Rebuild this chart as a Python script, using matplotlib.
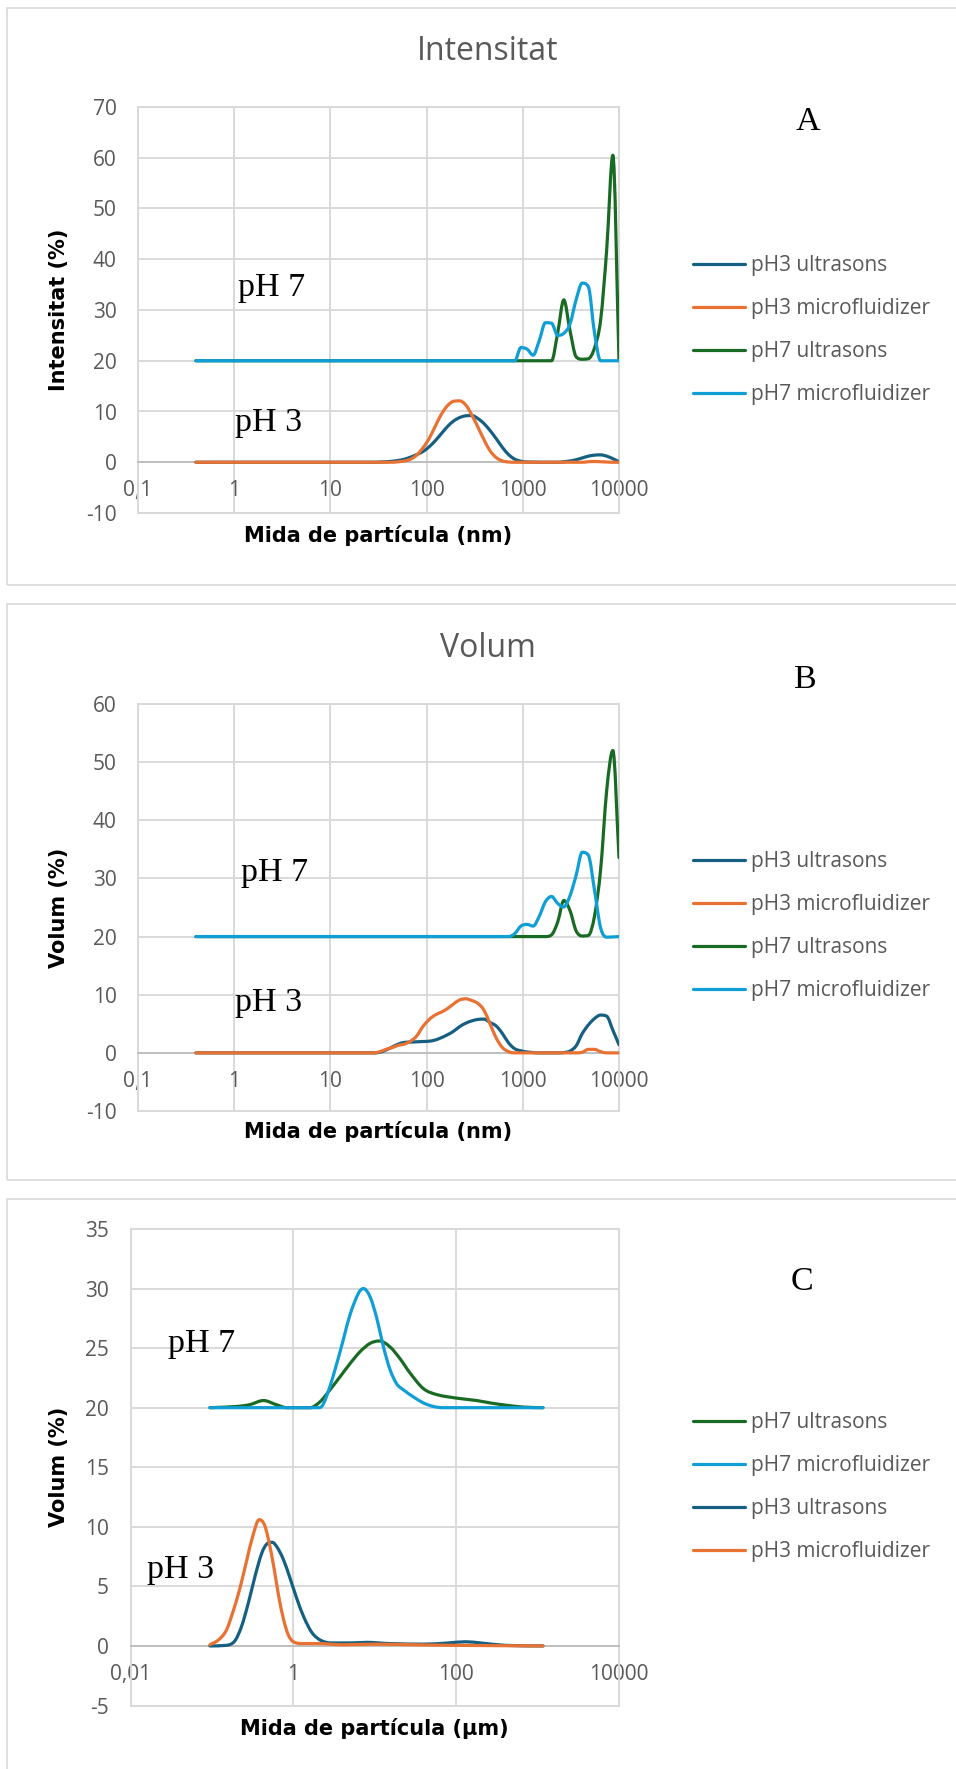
import matplotlib
matplotlib.use("Agg")
import numpy as np
import matplotlib.pyplot as plt
from matplotlib.ticker import FixedLocator, FixedFormatter, NullLocator
from matplotlib.patches import Rectangle, PathPatch
from matplotlib.path import Path
from matplotlib.lines import Line2D

plt.rcParams['font.family'] = ['Open Sans', 'DejaVu Sans']
plt.rcParams['axes.unicode_minus'] = False

# ---------------- data ----------------
SERIES_NAMES_AB = ["pH3 ultrasons", "pH3 microfluidizer", "pH7 ultrasons", "pH7 microfluidizer"]
SERIES_NAMES_C = ["pH7 ultrasons", "pH7 microfluidizer", "pH3 ultrasons", "pH3 microfluidizer"]

XTICKS_NM = [0.1, 1, 10, 100, 1000, 10000]
XTICKLABELS_NM = ["0,1", "1", "10", "100", "1000", "10000"]
XTICKS_UM = [0.01, 1, 100, 10000]
XTICKLABELS_UM = ["0,01", "1", "100", "10000"]
YTICKS_A = [-10, 0, 10, 20, 30, 40, 50, 60, 70]
YTICKS_B = [-10, 0, 10, 20, 30, 40, 50, 60]
YTICKS_C = [-5, 0, 5, 10, 15, 20, 25, 30, 35]

# Panel A - Intensitat (%), size in nm
A_pH3_us_x = [0.4, 28.21, 32.67, 37.84, 43.82, 50.75, 58.77, 68.06, 78.82, 91.28, 105.7, 122.4, 141.8,
              164.2, 190.1, 220.2, 255.0, 295.3, 342.0, 396.1, 458.7, 531.2, 615.1, 712.4, 825.0, 955.4,
              1106, 2305, 2669, 3091, 3580, 4145, 4801, 5560, 6439, 7456, 8635, 10000]
A_pH3_us_y = [0, 0, 0.05, 0.1, 0.2, 0.35, 0.6, 1.0, 1.5, 2.1, 3.0, 4.2, 5.6,
              7.0, 8.1, 8.8, 9.15, 9.2, 8.6, 7.6, 6.2, 4.6, 2.9, 1.5, 0.6, 0.2,
              0.05, 0, 0.1, 0.25, 0.5, 0.85, 1.2, 1.4, 1.45, 1.2, 0.7, 0.1]
A_pH3_mf_x = [0.4, 43.82, 50.75, 58.77, 68.06, 78.82, 91.28, 105.7, 122.4, 141.8, 164.2, 190.1, 220.2,
              255.0, 295.3, 342.0, 396.1, 458.7, 531.2, 615.1, 712.4, 825.0, 4145, 4801, 5560, 6439,
              7456, 8635, 10000]
A_pH3_mf_y = [0, 0, 0.1, 0.25, 0.6, 1.4, 2.8, 4.6, 7.0, 9.4, 11.1, 12.0, 12.1,
              11.3, 9.3, 6.9, 4.4, 2.2, 0.9, 0.25, 0.05, 0, 0, 0.1, 0.15, 0.1,
              0.05, 0, 0]
A_pH7_us_x = [0.4, 1718, 1990, 2305, 2669, 3091, 3580, 4145, 4801, 5560, 6439, 7456, 8635, 10000]
A_pH7_us_y = [20, 20, 20.0, 25.5, 32.0, 26.0, 20.8, 20.3, 20.4, 22.5, 28.0, 42.0, 60.5, 20]
A_pH7_mf_x = [0.4, 825.0, 955.4, 1106, 1281, 1484, 1718, 1990, 2305, 2669, 3091, 3580, 4145, 4801,
              5560, 6439, 10000]
A_pH7_mf_y = [20, 20, 22.6, 22.3, 21.1, 24.0, 27.5, 27.4, 25.0, 25.4, 27.2, 32.0, 35.3, 34.6,
              25.5, 20.0, 20]

# Panel B - Volum (%), size in nm
B_pH3_us_x = [0.4, 28.21, 32.67, 37.84, 43.82, 50.75, 58.77, 68.06, 78.82, 91.28, 105.7, 122.4, 141.8,
              164.2, 190.1, 220.2, 255.0, 295.3, 342.0, 396.1, 458.7, 531.2, 615.1, 712.4, 825.0, 955.4,
              1106, 1281, 1484, 2305, 2669, 3091, 3580, 4145, 4801, 5560, 6439, 7456, 8635, 10000]
B_pH3_us_y = [0, 0, 0.1, 0.5, 1.0, 1.5, 1.8, 1.85, 1.9, 1.95, 2.0, 2.2, 2.6,
              3.1, 3.7, 4.5, 5.1, 5.5, 5.75, 5.8, 5.2, 4.6, 3.3, 1.7, 0.7, 0.35,
              0.15, 0.05, 0, 0, 0.05, 0.3, 1.2, 3.3, 4.8, 5.9, 6.5, 6.3, 3.9, 1.4]
B_pH3_mf_x = [0.4, 28.21, 32.67, 37.84, 43.82, 50.75, 58.77, 68.06, 78.82, 91.28, 105.7, 122.4, 141.8,
              164.2, 190.1, 220.2, 255.0, 295.3, 342.0, 396.1, 458.7, 531.2, 615.1, 712.4, 825.0, 3580,
              4145, 4801, 5560, 6439, 7456, 10000]
B_pH3_mf_y = [0, 0, 0.2, 0.6, 0.9, 1.3, 1.5, 2.0, 2.9, 4.5, 5.7, 6.5, 7.0,
              7.6, 8.4, 9.1, 9.3, 9.0, 8.5, 7.3, 4.9, 2.5, 0.9, 0.2, 0, 0,
              0.1, 0.6, 0.6, 0.2, 0, 0]
B_pH7_us_x = [0.4, 1718, 1990, 2305, 2669, 3091, 3580, 4145, 4801, 5560, 6439, 7456, 8635, 10000]
B_pH7_us_y = [20, 20, 20.3, 22.5, 26.2, 24.5, 21.0, 20.1, 20.2, 23.5, 31.5, 45.2, 52.0, 33.6]
B_pH7_mf_x = [0.4, 712.4, 825.0, 955.4, 1106, 1281, 1484, 1718, 1990, 2305, 2669, 3091, 3580, 4145,
              4801, 5560, 6439, 7456, 10000]
B_pH7_mf_y = [20, 20, 20.5, 21.8, 22.1, 21.8, 23.5, 26.0, 26.9, 25.7, 25.1, 27.0, 30.5, 34.5,
              34.0, 28.0, 21.5, 19.9, 20]

# Panel C - Volum (%), size in um
C_pH7_us_x = [0.0945, 0.2, 0.29, 0.43, 0.62, 0.83, 1.6, 2.13, 2.82, 3.75, 4.97, 6.6, 8.77, 11.4,
              15.4, 20.5, 27.2, 39.6, 57.8, 102, 179, 262, 420, 673, 1164]
C_pH7_us_y = [20, 20.1, 20.25, 20.6, 20.25, 20.0, 20.0, 20.5, 21.5, 22.6, 23.7, 24.7, 25.4, 25.6,
              25.1, 24.1, 22.9, 21.6, 21.1, 20.8, 20.6, 20.4, 20.2, 20.05, 20]
C_pH7_mf_x = [0.0945, 2.03, 2.23, 2.82, 3.75, 4.97, 6.3, 7.26, 8.77, 10.6, 12.8, 15.4, 18.6, 22.5,
              29.9, 39.6, 52.6, 69.9, 1164]
C_pH7_mf_y = [20, 20, 20.1, 21.8, 24.7, 27.8, 29.6, 30.0, 29.3, 27.5, 25.1, 23.2, 22.0, 21.5,
              20.9, 20.4, 20.1, 20, 20]
C_pH3_us_x = [0.0945, 0.15, 0.19, 0.23, 0.28, 0.34, 0.41, 0.48, 0.55, 0.63, 0.75, 0.9, 1.1, 1.35,
              1.7, 2.2, 3.0, 5.0, 8.0, 15, 40, 80, 130, 200, 400, 1164]
C_pH3_us_y = [0, 0.05, 0.4, 1.6, 3.6, 5.9, 7.8, 8.6, 8.7, 8.3, 7.3, 5.8, 4.0, 2.4,
              1.1, 0.45, 0.25, 0.25, 0.3, 0.2, 0.15, 0.25, 0.35, 0.25, 0.05, 0]
C_pH3_mf_x = [0.0945, 0.12, 0.15, 0.18, 0.22, 0.27, 0.32, 0.38, 0.44, 0.5, 0.58, 0.66, 0.76, 0.87,
              1.0, 1.3, 2.0, 4.0, 10, 30, 100, 1164]
C_pH3_mf_y = [0.1, 0.5, 1.3, 2.8, 4.8, 7.3, 9.3, 10.6, 10.2, 8.8, 6.5, 4.2, 2.2, 0.9,
              0.35, 0.2, 0.2, 0.1, 0.15, 0.1, 0.05, 0]

# ---------------- style ----------------
W, H, DPI = 956, 1769, 100
COL_PH3_US = '#156082'
COL_PH3_MF = '#E97132'
COL_PH7_US = '#196B24'
COL_PH7_MF = '#0F9ED5'
GRID = '#D9D9D9'
AXIS0 = '#BFBFBF'
TXT = '#595959'
LW = 2.3
SERIF = ['Liberation Serif', 'DejaVu Serif']
BOLD_SANS = ['DejaVu Sans']

fig = plt.figure(figsize=(W / DPI, H / DPI), dpi=DPI)


def fx(px):
    return px / W


def fy(py):
    return 1 - py / H


def rect(l, t, r, b):
    return [l / W, 1 - b / H, (r - l) / W, (b - t) / H]


def smoothed_path(xs, ys):
    """Smoothed line (like Excel's 'smoothed line' option): cubic Bezier segments
    through the data points, tangents computed in log-x space (monotone-limited)."""
    lx = np.log10(np.asarray(xs, float))
    y = np.asarray(ys, float)
    n = len(lx)
    s = np.diff(y) / np.diff(lx)
    m = np.empty(n)
    m[0] = s[0]
    m[-1] = s[-1]
    for i in range(1, n - 1):
        if s[i - 1] * s[i] <= 0:
            m[i] = 0.0
        else:
            c = (y[i + 1] - y[i - 1]) / (lx[i + 1] - lx[i - 1])
            lim = 3 * min(abs(s[i - 1]), abs(s[i]))
            m[i] = np.sign(c) * min(abs(c), lim)
    verts = [(lx[0], y[0])]
    codes = [Path.MOVETO]
    for i in range(n - 1):
        d = (lx[i + 1] - lx[i]) / 3.0
        verts += [(lx[i] + d, y[i] + m[i] * d),
                  (lx[i + 1] - d, y[i + 1] - m[i + 1] * d),
                  (lx[i + 1], y[i + 1])]
        codes += [Path.CURVE4] * 3
    verts = [(10 ** a, b) for a, b in verts]
    return Path(verts, codes)


# panel frames
for (t, b) in [(8, 585), (604, 1180), (1199, 1790)]:
    fig.patches.append(Rectangle((fx(7), fy(b)), fx(1100 - 7), (b - t) / H,
                                 transform=fig.transFigure, fill=False,
                                 edgecolor=GRID, linewidth=1.2, zorder=0))


def make_panel(box, xlim, xticks, xticklabels, ylim, yticks, ylabel, xlabel,
               ylabel_x, xlabel_gap, series, legend_center_y):
    l, t, r, b = box
    ax = fig.add_axes(rect(l, t, r, b))
    ax.set_xscale('log')
    ax.set_xlim(*xlim)
    ax.set_ylim(*ylim)
    ax.xaxis.set_major_locator(FixedLocator(xticks))
    ax.xaxis.set_major_formatter(FixedFormatter(xticklabels))
    ax.xaxis.set_minor_locator(NullLocator())
    ax.set_yticks(yticks)
    ax.grid(True, color=GRID, linewidth=1.4)
    ax.set_axisbelow(True)
    for s in ['left', 'right', 'top']:
        ax.spines[s].set_color(GRID)
        ax.spines[s].set_linewidth(1.4)
    ax.spines['bottom'].set_position(('data', 0))
    ax.spines['bottom'].set_color(AXIS0)
    ax.spines['bottom'].set_linewidth(1.4)
    ax.axhline(ylim[0], color=GRID, linewidth=1.4, clip_on=False, zorder=0.5)
    ax.tick_params(axis='both', length=0, labelsize=15, labelcolor=TXT)
    ax.tick_params(axis='x', pad=13)
    ax.tick_params(axis='y', pad=15.5)
    handles = []
    for xs, ys, col, name in series:
        ax.add_patch(PathPatch(smoothed_path(xs, ys), fill=False, edgecolor=col,
                               linewidth=LW, joinstyle='round', capstyle='round', zorder=3))
        handles.append(Line2D([], [], color=col, lw=LW, solid_capstyle='round', label=name))
    ax.set_ylabel(ylabel, family=BOLD_SANS, fontweight='bold', fontsize=15, color='black')
    ax.yaxis.set_label_coords((ylabel_x - l) / (r - l), 0.5)
    ax.yaxis.label.set_va('center')
    ax.set_xlabel(xlabel, family=BOLD_SANS, fontweight='bold', fontsize=15, color='black')
    ax.xaxis.set_label_coords(0.5, -xlabel_gap / (b - t))
    ax.xaxis.label.set_va('center')
    ax.legend(handles=handles, loc='center left', bbox_to_anchor=(fx(693), fy(legend_center_y)),
              bbox_transform=fig.transFigure, frameon=False, fontsize=15,
              handlelength=2.5, handletextpad=0.3, labelspacing=1.05,
              borderpad=0, borderaxespad=0, labelcolor=TXT)
    return ax


axA = make_panel((138, 107, 619, 513), (0.1, 10000), XTICKS_NM, XTICKLABELS_NM,
                 (-10, 70), YTICKS_A, 'Intensitat (%)', 'Mida de partícula (nm)', 58.5, 23,
                 [(A_pH3_us_x, A_pH3_us_y, COL_PH3_US, SERIES_NAMES_AB[0]),
                  (A_pH3_mf_x, A_pH3_mf_y, COL_PH3_MF, SERIES_NAMES_AB[1]),
                  (A_pH7_us_x, A_pH7_us_y, COL_PH7_US, SERIES_NAMES_AB[2]),
                  (A_pH7_mf_x, A_pH7_mf_y, COL_PH7_MF, SERIES_NAMES_AB[3])], 330)

axB = make_panel((138, 704, 619, 1111), (0.1, 10000), XTICKS_NM, XTICKLABELS_NM,
                 (-10, 60), YTICKS_B, 'Volum (%)', 'Mida de partícula (nm)', 58.5, 21,
                 [(B_pH3_us_x, B_pH3_us_y, COL_PH3_US, SERIES_NAMES_AB[0]),
                  (B_pH3_mf_x, B_pH3_mf_y, COL_PH3_MF, SERIES_NAMES_AB[1]),
                  (B_pH7_us_x, B_pH7_us_y, COL_PH7_US, SERIES_NAMES_AB[2]),
                  (B_pH7_mf_x, B_pH7_mf_y, COL_PH7_MF, SERIES_NAMES_AB[3])], 926)

axC = make_panel((130.5, 1229, 619, 1705.5), (0.01, 10000), XTICKS_UM, XTICKLABELS_UM,
                 (-5, 35), YTICKS_C, 'Volum (%)', 'Mida de partícula (µm)', 59.5, 23,
                 [(C_pH7_us_x, C_pH7_us_y, COL_PH7_US, SERIES_NAMES_C[0]),
                  (C_pH7_mf_x, C_pH7_mf_y, COL_PH7_MF, SERIES_NAMES_C[1]),
                  (C_pH3_us_x, C_pH3_us_y, COL_PH3_US, SERIES_NAMES_C[2]),
                  (C_pH3_mf_x, C_pH3_mf_y, COL_PH3_MF, SERIES_NAMES_C[3])], 1487)

# titles
fig.text(fx(488), fy(51), 'Intensitat', ha='center', va='center', fontsize=23, color=TXT)
fig.text(fx(488), fy(648), 'Volum', ha='center', va='center', fontsize=23, color=TXT)

# panel letters
for letter, x, y in [('A', 808, 122), ('B', 805, 680), ('C', 802, 1282)]:
    fig.text(fx(x), fy(y), letter, ha='center', va='center', fontsize=24.5,
             family=SERIF, color='black')

# pH annotations
for lab, x, y in [('pH 7', 238, 288), ('pH 3', 235, 423),
                  ('pH 7', 241, 873), ('pH 3', 235, 1003),
                  ('pH 7', 168, 1344), ('pH 3', 147, 1570)]:
    fig.text(fx(x), fy(y), lab, ha='left', va='center', fontsize=24.5,
             family=SERIF, color='black')

fig.savefig('out.png', dpi=DPI)
